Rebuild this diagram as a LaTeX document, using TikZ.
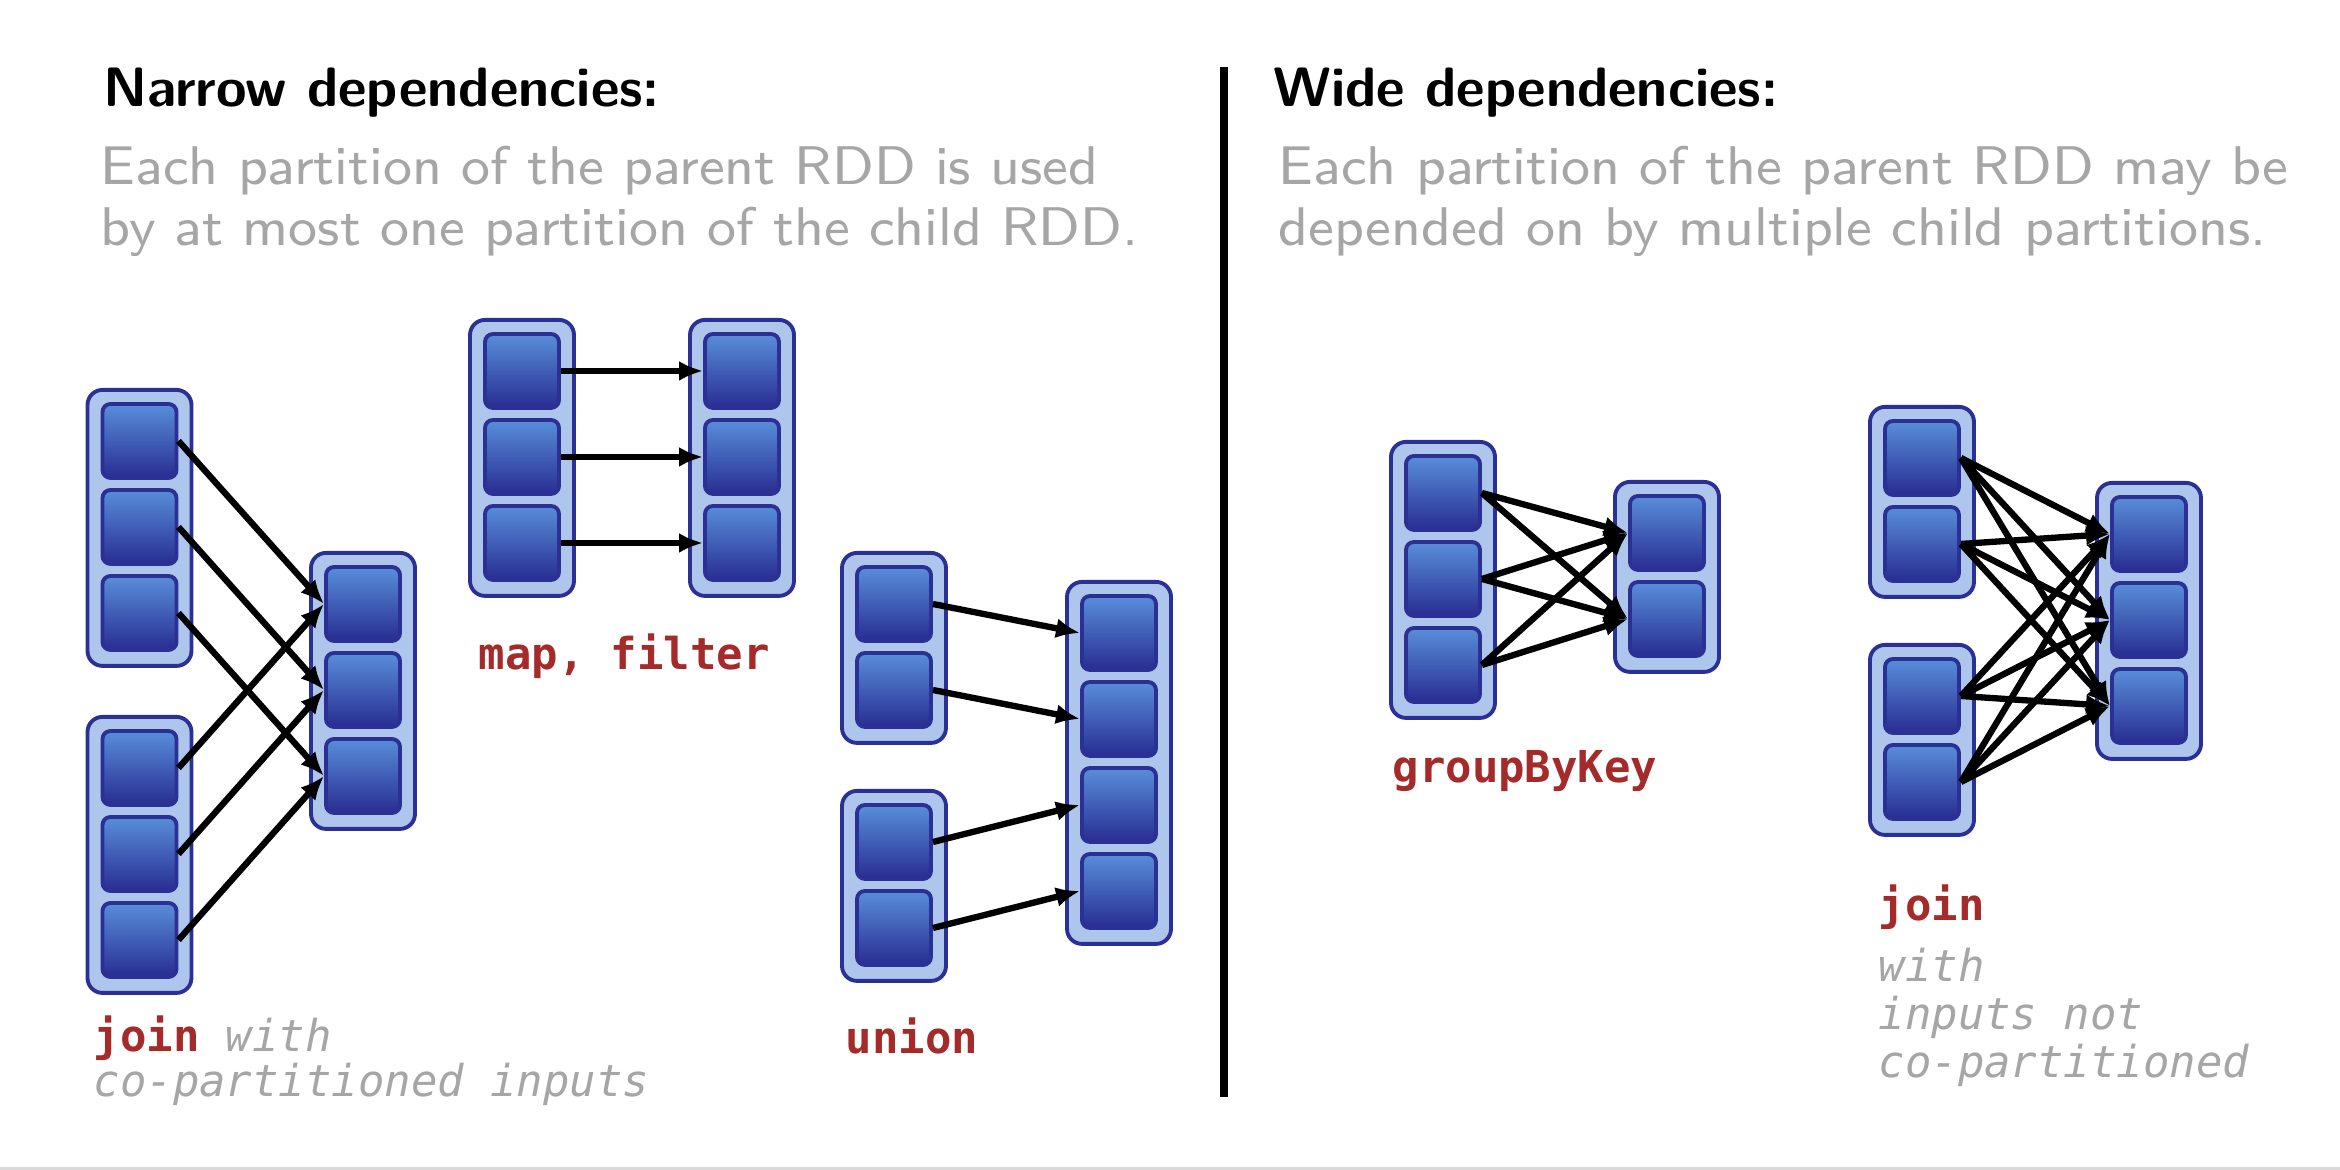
\documentclass[tikz,border=0pt]{standalone}
\usepackage{xcolor}
\usepackage{fontspec}
\usepackage{tikz}
\usetikzlibrary{arrows.meta, calc}

\newfontfamily\codefont{DejaVu Sans Mono}
\newfontfamily\notefont{lmsans8-regular.otf}
\definecolor{rddline}{RGB}{43,48,149}
\definecolor{rddfill}{RGB}{174,198,236}
\definecolor{parttop}{RGB}{88,142,218}
\definecolor{partbot}{RGB}{40,45,145}
\definecolor{codered}{RGB}{165,42,42}
\definecolor{notegray}{RGB}{166,166,166}

% one RDD: name, x, y of first partition, number of partitions
\newcommand{\rddcol}[4]{%
  \pgfmathsetmacro\rddh{(#4-1)*0.86+1.04}
  \node[rddbox, minimum height=\rddh cm, anchor=north] (#1) at (#2,#3+0.53) {};
  \foreach \i in {1,...,#4} {\node[part] (#1-\i) at (#2,{#3-(\i-1)*0.86}) {};}
}

\begin{document}
\begin{tikzpicture}[
  rddbox/.style={rectangle, rounded corners=0.15cm, draw=rddline, fill=rddfill, line width=1.1pt, minimum width=1.04cm, inner sep=0pt},
  part/.style={rectangle, rounded corners=0.08cm, draw=rddline, top color=parttop, bottom color=partbot, line width=1.1pt, minimum size=0.74cm, inner sep=0pt},
  dep/.style={-{Latex[length=0.24cm, width=0.2cm]}, line width=1.8pt},
  head/.style={anchor=base west, inner sep=0pt, font=\sffamily\bfseries\fontsize{15.8}{17}\selectfont},
  note/.style={anchor=base west, inner sep=0pt, text=notegray, font=\notefont\fontsize{15.5}{17}\selectfont},
  code/.style={anchor=base west, inner sep=0pt, font=\codefont\fontsize{12.5}{14}\selectfont}]
\useasboundingbox (0,0) rectangle (23.4,11.7);
\draw[gray!30, line width=0.9pt] (0,0.015) -- (23.4,0.015);
\draw[line width=2pt] (12.24,11.03) -- (12.24,0.73);

% headings
\node[head] (nhead) at (1.03,10.63) {Narrow dependencies:};
\node[note] (nnote1) at (1.00,9.85) {Each partition of the parent RDD is used};
\node[note] (nnote2) at (1.00,9.24) {by at most one partition of the child RDD.};
\node[head] (whead) at (12.73,10.63) {Wide dependencies:};
\node[note] (wnote1) at (12.78,9.85) {Each partition of the parent RDD may be};
\node[note] (wnote2) at (12.78,9.24) {depended on by multiple child partitions.};

% narrow: join
\rddcol{jpa}{1.395}{7.29}{3}
\rddcol{jpb}{1.395}{4.02}{3}
\rddcol{jc}{3.63}{5.66}{3}
\foreach \i in {1,2,3} {\draw[dep] (jpa-\i.east) -- (jc-\i.west); \draw[dep] (jpb-\i.east) -- (jc-\i.west);}
\node[code, text=codered] (jlab1) at (0.93,1.18) {\bfseries join \mdseries\itshape\color{notegray}with};
\node[code, text=notegray] (jlab2) at (0.93,0.73) {\itshape co-partitioned inputs};

% narrow: map, filter
\rddcol{mp}{5.22}{7.99}{3}
\rddcol{mc}{7.42}{7.99}{3}
\foreach \i in {1,2,3} {\draw[dep] (mp-\i.east) -- (mc-\i.west);}
\node[code, text=codered] (mlab) at (4.78,5.00) {\bfseries map, filter};

% narrow: union
\rddcol{upa}{8.94}{5.66}{2}
\rddcol{upb}{8.94}{3.28}{2}
\rddcol{uc}{11.19}{5.37}{4}
\draw[dep] (upa-1.east) -- (uc-1.west);
\draw[dep] (upa-2.east) -- (uc-2.west);
\draw[dep] (upb-1.east) -- (uc-3.west);
\draw[dep] (upb-2.east) -- (uc-4.west);
\node[code, text=codered] (ulab) at (8.45,1.16) {\bfseries union};

% wide: groupByKey
\rddcol{gp}{14.43}{6.77}{3}
\rddcol{gc}{16.67}{6.37}{2}
\foreach \i in {1,2,3} {\foreach \j in {1,2} {\draw[dep] (gp-\i.east) -- (gc-\j.west);}}
\node[code, text=codered] (glab) at (13.92,3.87) {\bfseries groupByKey};

% wide: join
\rddcol{wpa}{19.22}{7.12}{2}
\rddcol{wpb}{19.22}{4.74}{2}
\rddcol{wc}{21.49}{6.36}{3}
\foreach \i in {1,2} {\foreach \j in {1,2,3} {\draw[dep] (wpa-\i.east) -- (wc-\j.west); \draw[dep] (wpb-\i.east) -- (wc-\j.west);}}
\node[code, text=codered] (wlab1) at (18.78,2.49) {\bfseries join};
\node[code, text=notegray] (wlab2) at (18.78,1.88) {\itshape with};
\node[code, text=notegray] (wlab3) at (18.78,1.40) {\itshape inputs not};
\node[code, text=notegray] (wlab4) at (18.78,0.92) {\itshape co-partitioned};
\end{tikzpicture}
\end{document}
